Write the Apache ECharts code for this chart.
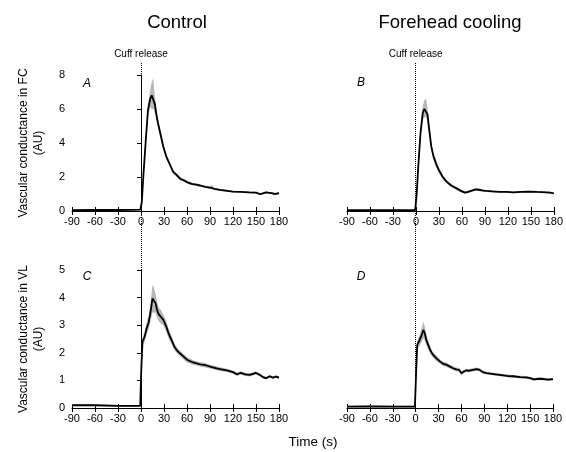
<!DOCTYPE html>
<html>
<head>
<meta charset="utf-8">
<script src="https://cdn.jsdelivr.net/npm/echarts@6/dist/echarts.min.js"></script>
<style>
  html, body { margin: 0; padding: 0; background: #fff; }
  #chart { width: 566px; height: 452px; }
</style>
</head>
<body>
<div id="chart"></div>
<script>
// Panel A: Control, FC
const tA = [-90, -60, -30, -1, 0, 1, 3, 6, 9, 12, 14, 16, 18, 20, 22, 25, 29, 33, 37, 42, 47, 51, 56, 60, 66, 72, 77, 84, 90, 92, 96, 103, 110, 120, 130, 141, 150, 155, 158, 163, 170, 175, 180]
const mA = [0.05, 0.07, 0.06, 0.08, 0.1, 0.5, 2.0, 4.0, 5.9, 6.6, 6.8, 6.9, 6.3, 5.7, 5.2, 4.6, 3.8, 3.2, 2.8, 2.3, 2.1, 1.9, 1.8, 1.7, 1.6, 1.55, 1.5, 1.42, 1.37, 1.45, 1.3, 1.24, 1.2, 1.14, 1.13, 1.1, 1.08, 1.0, 1.02, 1.1, 1.05, 1.0, 1.05]
const eA = [0.03, 0.03, 0.03, 0.03, 0.05, 0.1, 0.15, 0.25, 0.35, 0.5, 0.8, 0.9, 0.5, 0.3, 0.25, 0.2, 0.18, 0.15, 0.12, 0.1, 0.1, 0.1, 0.08, 0.08, 0.08, 0.07, 0.07, 0.07, 0.07, 0.1, 0.06, 0.06, 0.06, 0.05, 0.05, 0.05, 0.05, 0.05, 0.05, 0.05, 0.05, 0.05, 0.05]

// Panel B: Forehead cooling, FC
const tB = [-90, -60, -30, -1, 0, 1, 3, 6, 9, 11, 13, 15, 17, 20, 23, 27, 30, 35, 40, 46, 53, 58, 64, 68, 73, 78, 82, 88, 92, 100, 109, 118, 127, 137, 148, 158, 170, 175, 180]
const mB = [0.05, 0.05, 0.05, 0.05, 0.1, 1.0, 2.6, 4.6, 5.8, 6.0, 6.1, 5.7, 4.9, 3.8, 3.2, 2.7, 2.4, 2.0, 1.73, 1.5, 1.33, 1.2, 1.08, 1.12, 1.2, 1.27, 1.25, 1.2, 1.18, 1.15, 1.12, 1.13, 1.1, 1.13, 1.14, 1.12, 1.1, 1.08, 1.04]
const eB = [0.03, 0.03, 0.03, 0.03, 0.05, 0.1, 0.2, 0.3, 0.4, 0.5, 0.55, 0.4, 0.3, 0.25, 0.2, 0.18, 0.15, 0.12, 0.1, 0.1, 0.08, 0.08, 0.07, 0.07, 0.07, 0.07, 0.07, 0.06, 0.06, 0.06, 0.05, 0.05, 0.05, 0.05, 0.05, 0.05, 0.05, 0.05, 0.05]

// Panel C: Control, VL
const tC = [-90, -60, -30, -1, 0, 0.5, 2, 5, 7, 10, 12, 15, 17, 19, 21, 23, 26, 29, 33, 36, 40, 44, 48, 52, 56, 60, 68, 77, 84, 90, 100, 105, 112, 120, 125, 130, 136, 142, 150, 155, 159, 163, 168, 172, 176, 180]
const mC = [0.1, 0.1, 0.08, 0.08, 0.1, 1.5, 2.4, 2.6, 2.85, 3.1, 3.4, 3.97, 3.9, 3.8, 3.55, 3.4, 3.3, 3.2, 2.95, 2.7, 2.45, 2.2, 2.05, 1.95, 1.85, 1.75, 1.65, 1.58, 1.55, 1.5, 1.43, 1.4, 1.36, 1.3, 1.22, 1.27, 1.22, 1.2, 1.27, 1.2, 1.12, 1.08, 1.15, 1.1, 1.14, 1.1]
const eC = [0.03, 0.03, 0.03, 0.03, 0.05, 0.1, 0.15, 0.2, 0.2, 0.25, 0.3, 0.5, 0.45, 0.35, 0.3, 0.25, 0.25, 0.2, 0.2, 0.18, 0.15, 0.12, 0.1, 0.1, 0.1, 0.1, 0.08, 0.08, 0.08, 0.07, 0.07, 0.07, 0.06, 0.06, 0.06, 0.06, 0.06, 0.06, 0.06, 0.05, 0.05, 0.05, 0.05, 0.05, 0.05, 0.05]

// Panel D: Forehead cooling, VL
const tD = [-90, -60, -30, -1, 0, 0.5, 2, 5, 8, 10, 12, 14, 17, 19, 22, 25, 28, 32, 36, 41, 45, 49, 53, 57, 60, 63, 66, 70, 75, 80, 84, 88, 93, 100, 110, 120, 128, 137, 145, 150, 155, 162, 168, 174, 180]
const mD = [0.05, 0.06, 0.05, 0.05, 0.08, 1.2, 2.28, 2.45, 2.65, 2.83, 2.7, 2.46, 2.25, 2.1, 1.95, 1.86, 1.78, 1.68, 1.6, 1.56, 1.5, 1.44, 1.4, 1.38, 1.26, 1.32, 1.36, 1.35, 1.38, 1.41, 1.38, 1.3, 1.26, 1.24, 1.2, 1.16, 1.15, 1.12, 1.11, 1.08, 1.04, 1.06, 1.05, 1.03, 1.05]
const eD = [0.03, 0.03, 0.03, 0.03, 0.05, 0.1, 0.15, 0.2, 0.25, 0.3, 0.25, 0.2, 0.15, 0.12, 0.1, 0.1, 0.1, 0.08, 0.08, 0.08, 0.07, 0.07, 0.07, 0.07, 0.07, 0.06, 0.06, 0.06, 0.06, 0.06, 0.06, 0.06, 0.05, 0.05, 0.05, 0.05, 0.05, 0.05, 0.05, 0.05, 0.05, 0.05, 0.05, 0.05, 0.05]

const xTicks = [-90, 180, 30]   // min, max, interval
const panelLetters = ['A', 'B', 'C', 'D']
const columnTitles = ['Control', 'Forehead cooling']
const yNames = ['Vascular conductance in FC\n(AU)', 'Vascular conductance in VL\n(AU)']

const font = 'Arial, "Liberation Sans", sans-serif'
const chart = echarts.init(document.getElementById('chart'))

const grids = [
  { left: 72, top: 75, width: 207, height: 136 },
  { left: 347, top: 75, width: 208, height: 136 },
  { left: 72, top: 270, width: 207, height: 138 },
  { left: 347, top: 270, width: 206, height: 138 },
  // full-height grids for the cuff release line
  { left: 72, top: 62, width: 207, height: 346 },
  { left: 347, top: 62, width: 206, height: 346 }
]

const xAxes = []
const yAxes = []
for (let i = 0; i < 4; i++) {
  xAxes.push({
    type: 'value', gridIndex: i, position: 'bottom',
    min: xTicks[0], max: xTicks[1], interval: xTicks[2],
    axisLine: { show: true, onZero: false, lineStyle: { color: '#000', width: 1 } },
    axisTick: { show: true, length: 4, lineStyle: { color: '#000' } },
    axisLabel: { color: '#000', fontSize: 11, fontFamily: font, margin: 5 },
    splitLine: { show: false }
  })
}
// inner half of the crossing x ticks
for (let i = 0; i < 4; i++) {
  xAxes.push({
    type: 'value', gridIndex: i, position: 'bottom',
    min: xTicks[0], max: xTicks[1], interval: xTicks[2],
    axisLine: { show: false },
    axisTick: { show: true, inside: true, length: 4, lineStyle: { color: '#000' } },
    axisLabel: { show: false },
    splitLine: { show: false }
  })
}
xAxes.push({ type: 'value', gridIndex: 4, min: -90, max: 180, show: false })
xAxes.push({ type: 'value', gridIndex: 5, min: -90, max: 180, show: false })

const yMax = [8, 8, 5, 5]
const yInt = [2, 2, 1, 1]
for (let i = 0; i < 4; i++) {
  const left = i % 2 === 0
  yAxes.push({
    type: 'value', gridIndex: i, min: 0, max: yMax[i], interval: yInt[i],
    show: left,
    name: left ? yNames[i / 2] : '',
    nameLocation: 'middle', nameGap: 26,
    nameTextStyle: { color: '#000', fontSize: 12, fontFamily: font, lineHeight: 15 },
    axisLine: { show: true, lineStyle: { color: '#000', width: 1 } },
    axisTick: { show: true, length: 4, lineStyle: { color: '#000' } },
    axisLabel: { color: '#000', fontSize: 11, fontFamily: font, margin: 7 },
    splitLine: { show: false }
  })
}
yAxes.push({ type: 'value', gridIndex: 4, min: 0, max: 1, show: false })
yAxes.push({ type: 'value', gridIndex: 5, min: 0, max: 1, show: false })

// SD band drawn as one polygon through the axis scales
function bandRenderer(t, m, e) {
  return function (params, api) {
    if (params.dataIndex !== 0) return null
    const upper = t.map((x, k) => api.coord([x, m[k] + e[k]]))
    const lower = t.map((x, k) => api.coord([x, Math.max(0, m[k] - e[k])])).reverse()
    return {
      type: 'polygon',
      shape: { points: upper.concat(lower) },
      style: { fill: '#b8b8b8' },
      silent: true
    }
  }
}

const panels = [[tA, mA, eA], [tB, mB, eB], [tC, mC, eC], [tD, mD, eD]]
const series = []
panels.forEach(([t, m, e], i) => {
  series.push({
    type: 'custom', xAxisIndex: i, yAxisIndex: i,
    data: t.map((x, k) => [x, m[k]]),
    renderItem: bandRenderer(t, m, e), silent: true, z: 1
  })
  series.push({
    type: 'line', xAxisIndex: i, yAxisIndex: i,
    data: t.map((x, k) => [x, m[k]]),
    symbol: 'none', lineStyle: { color: '#000', width: 1.8 }, z: 3
  })
})
// Cuff release lines
for (let g = 4; g < 6; g++) {
  series.push({
    type: 'line', xAxisIndex: g - 4 + 8, yAxisIndex: g, data: [[-90, 0], [180, 0]],
    symbol: 'none', lineStyle: { opacity: 0 }, silent: true,
    markLine: {
      symbol: 'none', silent: true,
      lineStyle: { color: '#000', type: 'dotted', width: 1 },
      label: { show: true, position: 'end', formatter: 'Cuff release', color: '#000', fontSize: 10, fontFamily: font, distance: 3 },
      data: [{ xAxis: 0 }]
    }
  })
}

const titles = [
  { text: columnTitles[0], left: 177, top: 13, textAlign: 'center', padding: 0, textStyle: { fontSize: 18.5, fontWeight: 'normal', color: '#000', fontFamily: font } },
  { text: columnTitles[1], left: 450, top: 13, textAlign: 'center', padding: 0, textStyle: { fontSize: 18.5, fontWeight: 'normal', color: '#000', fontFamily: font } },
  { text: 'Time (s)', left: 313, top: 435, textAlign: 'center', padding: 0, textStyle: { fontSize: 13.5, fontWeight: 'normal', color: '#000', fontFamily: font } }
]
const letterPos = [[87, 78], [361, 77], [87, 271], [361, 271]]
panelLetters.forEach((l, i) => {
  titles.push({
    text: l, left: letterPos[i][0], top: letterPos[i][1], textAlign: 'center', padding: 0,
    textStyle: { fontSize: 12, fontStyle: 'italic', fontWeight: 'normal', color: '#000', fontFamily: font }
  })
})

chart.setOption({
  backgroundColor: '#fff',
  animation: false,
  title: titles,
  grid: grids,
  xAxis: xAxes,
  yAxis: yAxes,
  series: series
})
</script>
</body>
</html>
